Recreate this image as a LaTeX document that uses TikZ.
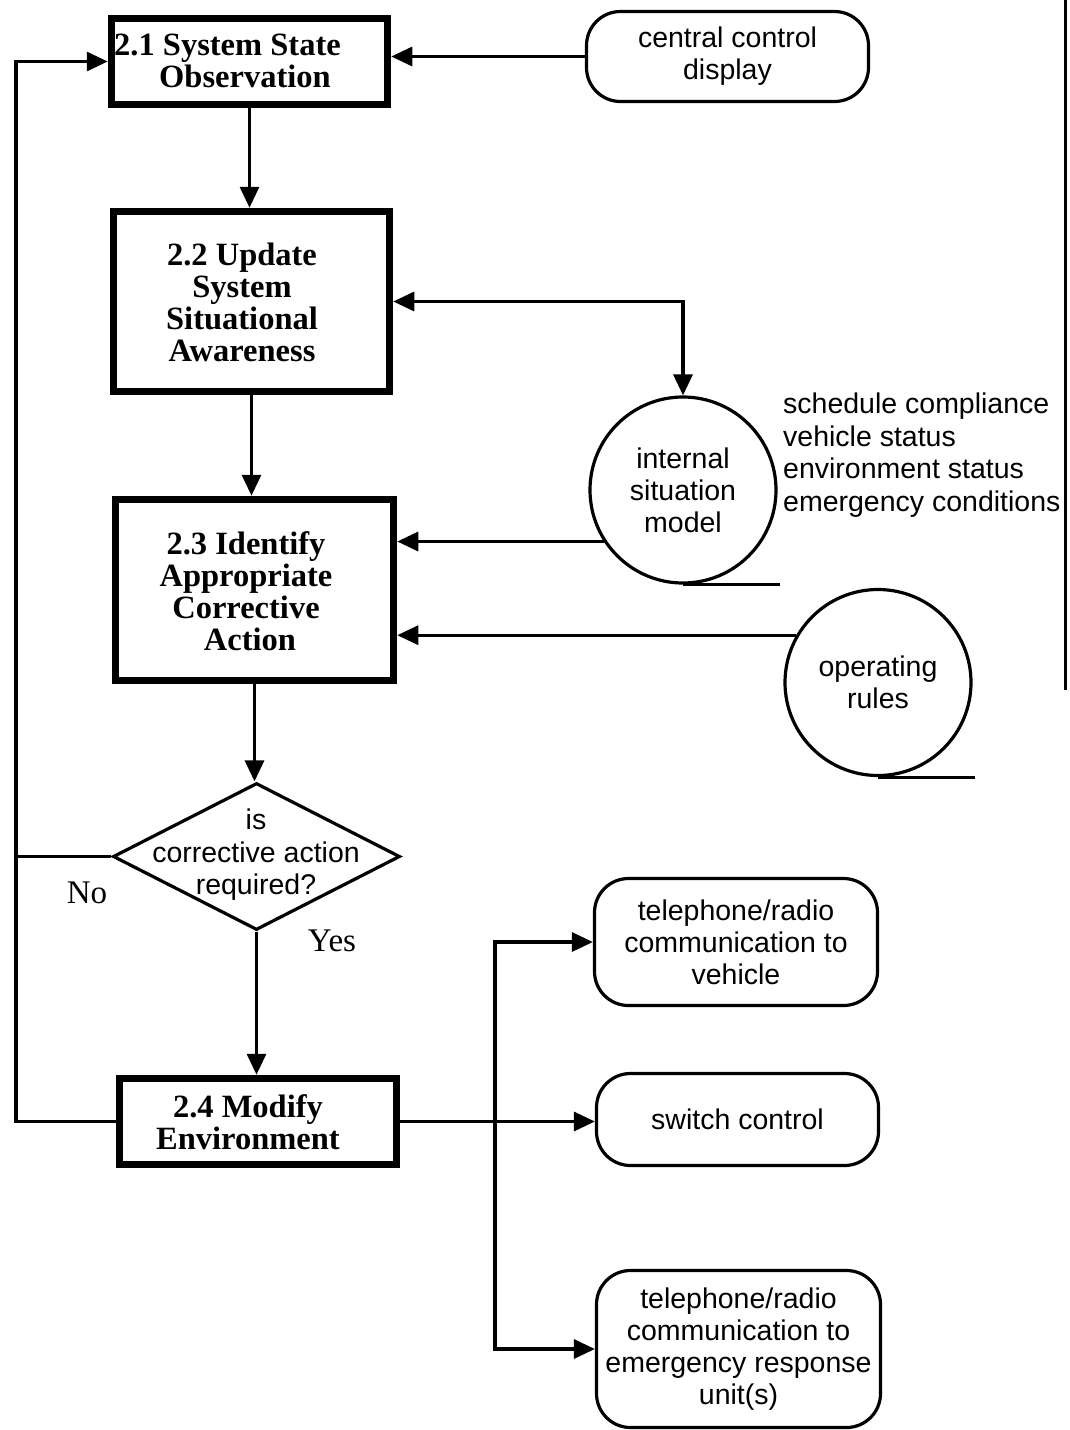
\documentclass[tikz,border=0pt]{standalone}
\usepackage{fontspec}
\setmainfont{Liberation Serif}
\setsansfont{Liberation Sans}
\usetikzlibrary{arrows.meta,shapes.geometric}
\begin{document}
\begin{tikzpicture}[x=1pt,y=-1pt,
  procbox/.style={draw, line width=7.5pt, rectangle, inner sep=0pt},
  termbox/.style={draw, line width=3.2pt, rectangle, rounded corners=34pt, inner sep=0pt,
    font=\sffamily\fontsize{28.5}{32}\selectfont, align=center},
  store/.style={draw, line width=3.2pt, circle, inner sep=0pt, minimum size=186pt,
    font=\sffamily\fontsize{28.5}{32}\selectfont, align=center},
  decision/.style={draw, line width=3.2pt, diamond, inner sep=0pt},
  boldlabel/.style={font=\bfseries\fontsize{32.5}{32}\selectfont, align=center, inner sep=0pt},
  sanslabel/.style={font=\sffamily\fontsize{28.5}{32.5}\selectfont, align=center, inner sep=0pt},
  seriflabel/.style={font=\fontsize{33}{36}\selectfont, inner sep=0pt},
  link/.style={line width=3.2pt},
  flow/.style={line width=3.2pt, -{Triangle[length=21pt,width=19pt]}},
  twoway/.style={line width=3.2pt, {Triangle[length=21pt,width=19pt]}-{Triangle[length=21pt,width=19pt]}}
]
\useasboundingbox (0,0) rectangle (1070,1430);

% process boxes
\node[procbox, minimum width=276pt, minimum height=86pt] (B21) at (249.5,61.5) {};
\node[procbox, minimum width=276pt, minimum height=180pt] (B22) at (251.5,301.5) {};
\node[procbox, minimum width=278pt, minimum height=181pt] (B23) at (254.5,590) {};
\node[procbox, minimum width=277pt, minimum height=86pt] (B24) at (258,1121.5) {};

\node[boldlabel, align=left, anchor=west] (B21t) at (114,61) {2.1 System State\\\hspace*{45pt}Observation};
\node[boldlabel] (B22t) at (242,302) {2.2 Update\\System\\Situational\\Awareness};
\node[boldlabel] (B23t) at (246,591) {2.3 Identify\\Appropriate\\Corrective\\\hspace*{8pt}Action};
\node[boldlabel] (B24t) at (248,1122) {2.4 Modify\\Environment};

% decision
\node[decision, minimum width=287pt, minimum height=147pt] (dia) at (256.5,856.5) {};
\node[sanslabel] (diat) at (256,855) {is\\corrective action\\required?};
\node[seriflabel] (no) at (87,893) {No};
\node[seriflabel] (yes) at (332,941) {Yes};

% terminators
\node[termbox, minimum width=282pt, minimum height=90pt] (CCD) at (727.5,56.5) {central control\\display};
\node[termbox, minimum width=283pt, minimum height=127pt] (TRV) at (736,942) {telephone/radio\\communication to\\vehicle};
\node[termbox, minimum width=282pt, minimum height=92pt] (SC) at (737.5,1119.5) {switch control};
\node[termbox, minimum width=284pt, minimum height=157pt] (TRE) at (738.5,1349) {telephone/radio\\communication to\\emergency response\\unit(s)};

% data stores
\node[store] (ISM) at (683,490) {internal\\situation\\model};
\node[store] (OR) at (878,682.5) {operating\\rules};
\draw[link] (ISM.south) -- ++(97,0);
\draw[link] (OR.south) -- ++(97,0);
\node[sanslabel, align=left, anchor=west] (ISMlist) at (783,455)
  {schedule compliance\\vehicle status\\environment status\\emergency conditions};

% main flow
\draw[flow] (B21.south) -- (B21.south |- B22.north);
\draw[flow] (B22.south) -- (B22.south |- B23.north);
\draw[flow] (B23.south) -- (B23.south |- dia.north);
\draw[flow] (dia.south) -- (dia.south |- B24.north);

% inputs
\draw[flow] (CCD.west) -- (CCD.west -| B21.east);
\draw[twoway] (B22.east) -- (B22.east -| ISM.north) -- (ISM.north);
\draw[flow] (ISM.213) -- (ISM.213 -| B23.east);
\draw[flow] (OR.150) -- (OR.150 -| B23.east);

% feedback loop on the left
\coordinate (loopX) at (16,0);
\draw[flow] (B24.west) -- (B24.west -| loopX) |- (B21.west);
\draw[link] (dia.west) -- (dia.west -| loopX);

% outputs
\coordinate (fork) at (495,0);
\draw[flow] (B24.east) -- (B24.east -| SC.west);
\draw[flow] (fork |- B24.east) |- (TRV.west);
\draw[flow] (fork |- B24.east) |- (TRE.west);

% right page edge
\draw[line width=3pt] (1065,0) -- (1065,690);
\end{tikzpicture}
\end{document}
